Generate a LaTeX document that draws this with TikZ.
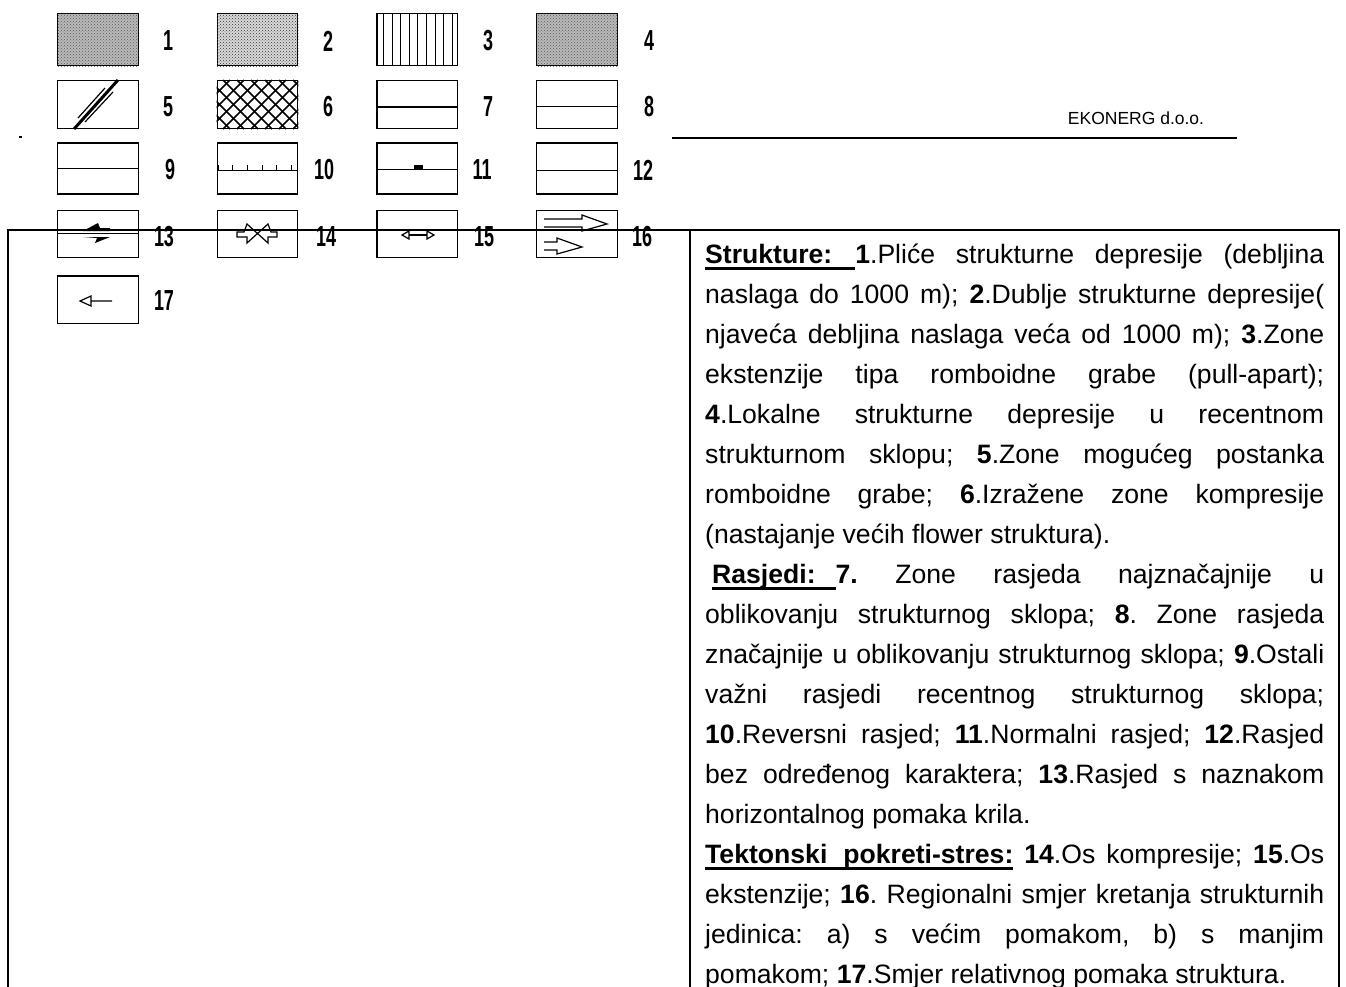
\documentclass[tikz,border=0pt]{standalone}
\usepackage{fontspec}
\setmainfont{Liberation Sans}
\newfontfamily\numfont[FakeStretch=0.62]{Liberation Sans}
\usetikzlibrary{positioning,patterns,calc}
\tikzset{
    legendbox/.style={draw, line width=1.2pt, inner sep=0pt, minimum width=80.5pt},
    legendnum/.style={inner sep=0pt, font=\numfont\bfseries\fontsize{29}{29}\selectfont},
    faultline/.style={line width=1pt},
    framerule/.style={line width=2.2pt, line cap=rect},
    thinsign/.style={line width=1.2pt, line join=miter}
}
\newsavebox\headbox
\newcommand{\headul}[1]{\sbox\headbox{\textbf{#1}}\rlap{\rule[-6.3pt]{\wd\headbox}{3pt}}\usebox\headbox}

\begin{document}
\begin{tikzpicture}[x=1pt, y=-1pt, node distance=78pt]
    \useasboundingbox (0,0) rectangle (1346,986);
    % row 1
    \node[legendbox, minimum height=52pt, anchor=north west, fill=gray!55] (box1) at (57,13) {};
    \node[legendbox, minimum height=52pt, right=of box1, fill=gray!30] (box2) {};
    \node[legendbox, minimum height=52pt, right=of box2] (box3) {};
    \node[legendbox, minimum height=52pt, right=of box3, fill=gray!55] (box4) {};
    \fill[pattern=crosshatch dots, pattern color=black!65] (box1.north west) rectangle (box1.south east);
    \fill[pattern=crosshatch dots, pattern color=black!80] (box2.north west) rectangle (box2.south east);
    \fill[pattern=crosshatch dots, pattern color=black!65] (box4.north west) rectangle (box4.south east);
    % row 2
    \node[legendbox, minimum height=48.5pt, below=13.5pt of box1] (box5) {};
    \node[legendbox, minimum height=48.5pt, right=of box5] (box6) {};
    \node[legendbox, minimum height=48.5pt, right=of box6] (box7) {};
    \node[legendbox, minimum height=48.5pt, right=of box7] (box8) {};
    % row 3
    \node[legendbox, minimum height=51pt, below=13pt of box5] (box9) {};
    \node[legendbox, minimum height=51pt, right=of box9] (box10) {};
    \node[legendbox, minimum height=51pt, right=of box10] (box11) {};
    \node[legendbox, minimum height=51pt, right=of box11] (box12) {};
    % row 4
    \node[legendbox, minimum height=47.5pt, below=15pt of box9] (box13) {};
    \node[legendbox, minimum height=47.5pt, right=of box13] (box14) {};
    \node[legendbox, minimum height=47.5pt, right=of box14] (box15) {};
    \node[legendbox, minimum height=47.5pt, right=of box15] (box16) {};
    % row 5
    \node[legendbox, minimum height=47.5pt, below=17pt of box13] (box17) {};

    % numbers
    \node[legendnum] (num1) at (168,41) {1};
    \node[legendnum] (num2) at (328,41) {2};
    \node[legendnum] (num3) at (488,41) {3};
    \node[legendnum] (num4) at (649,41) {4};
    \node[legendnum] (num5) at (168,107) {5};
    \node[legendnum] (num6) at (328,107) {6};
    \node[legendnum] (num7) at (488,107) {7};
    \node[legendnum] (num8) at (649,107) {8};
    \node[legendnum] (num9) at (170,170) {9};
    \node[legendnum] (num10) at (324,170) {10};
    \node[legendnum] (num11) at (482,170) {11};
    \node[legendnum] (num12) at (643,170) {12};
    \node[legendnum] (num13) at (164,237) {13};
    \node[legendnum] (num14) at (326,237) {14};
    \node[legendnum] (num15) at (484,237) {15};
    \node[legendnum] (num16) at (642,237) {16};
    \node[legendnum] (num17) at (164,301) {17};

    % hatching
    \foreach \x in {383,392,400,409,417,426,435,443,452}
        \draw[line width=.8pt] (\x,13) -- (\x,66);
    \begin{scope}
        \clip (box6.north west) rectangle (box6.south east);
        \foreach \x in {0,14,...,140} {
            \draw[line width=1.5pt] (\x+167,129) -- (\x+216,80);
            \draw[line width=1.5pt] (\x+167,80) -- (\x+216,129);
        }
    \end{scope}

    % signs
    \begin{scope}
        \clip (box5.north west) rectangle (box5.south east);
        \draw[line width=3pt] (74,129) -- (118,80);
    \end{scope}
    \draw[thinsign] (78,118) -- (105,88);
    \draw[thinsign] (85,122) -- (113,92);
    \draw[line width=2pt] ($(box7.west)+(0,2.5)$) -- ($(box7.east)+(0,2.5)$);
    \draw[faultline] ($(box8.west)+(0,1.5)$) -- ($(box8.east)+(0,1.5)$);
    \draw[line width=.7pt] (box9.west) -- (box9.east);
    \draw[faultline] ($(box10.west)+(0,1.5)$) -- ($(box10.east)+(0,1.5)$);
    \foreach \x in {218,232,247,262,276,291}
        \draw[line width=.8pt] (\x,170) -- (\x,165);
    \draw[faultline] ($(box11.west)+(0,.5)$) -- ($(box11.east)+(0,.5)$);
    \fill (414,165) rectangle (423,169);
    \draw[faultline] ($(box12.west)+(0,1.5)$) -- ($(box12.east)+(0,1.5)$);
    \draw[faultline] (box13.west) -- (box13.east);
    \fill (83,231) -- (98,223) -- (100,228) -- (110,228) -- (110,231) -- cycle;
    \fill (83,237) -- (110,237) -- (95,243) -- (97,238) -- cycle;
    \draw[thinsign] (237,232) -- (244,232) -- (247,224) -- (268,243) -- (268,237) -- (277,237) -- (277,232) -- (271,232) -- (268,224) -- (247,243) -- (247,237) -- (237,237) -- cycle;
    \draw[thinsign] (409,235) -- (427,235);
    \draw[thinsign] (402,235) -- (409,231) -- (409,239) -- cycle;
    \draw[thinsign] (434,235) -- (427,231) -- (427,239) -- cycle;
    \draw[thinsign] (544,219) -- (582,219) -- (582,215) -- (607,224) -- (582,231) -- (582,227) -- (544,227);
    \draw[thinsign] (544,242) -- (557,242) -- (557,238) -- (582,247) -- (557,254) -- (557,250) -- (544,250);
    \draw[thinsign] (112,301) -- (91,301) -- (91,296) -- (80,301) -- (91,306) -- (91,301);

    % frame and heading
    \draw[line width=2pt] (19,137) -- (22,137);
    \coordinate (ruleL) at (672,138);
    \coordinate (ruleR) at (1237,138);
    \draw[framerule, line cap=butt] (ruleL) -- (ruleR);
    \node[inner sep=0pt, font=\fontsize{17.5}{20}\selectfont] (firm) at (1136,118) {EKONERG d.o.o.};
    \coordinate (frameTL) at (8,230);
    \coordinate (frameTM) at (690,230);
    \coordinate (frameTR) at (1339,230);
    \coordinate (frameBL) at (8,986);
    \coordinate (frameBM) at (690,986);
    \coordinate (frameBR) at (1339,986);
    \draw[framerule] (frameBL) -- (frameTL) -- (frameTR) -- (frameBR);
    \draw[framerule] (frameTM) -- (frameBM);

    % legend text
    \node[anchor=north west, inner sep=0pt, text width=619pt, align=justify,
          font=\fontsize{26.6}{40}\selectfont\frenchspacing] (legend) at (705,243.5) {%
    \headul{Strukture:\hspace{23pt}}\textbf{1}.Pliće strukturne depresije (debljina\linebreak
    naslaga do 1000 m); \textbf{2}.Dublje strukturne depresije(\linebreak
    njaveća debljina naslaga veća od 1000 m); \textbf{3}.Zone\linebreak
    ekstenzije tipa romboidne grabe (pull-apart);\linebreak
    \textbf{4}.Lokalne strukturne depresije u recentnom\linebreak
    strukturnom sklopu; \textbf{5}.Zone mogućeg postanka\linebreak
    romboidne grabe; \textbf{6}.Izražene zone kompresije\linebreak
    (nastajanje većih flower struktura).\\
    \hspace*{7pt}\headul{Rasjedi:\hspace{20pt}}\textbf{7.} Zone rasjeda najznačajnije u\linebreak
    oblikovanju strukturnog sklopa; \textbf{8}. Zone rasjeda\linebreak
    značajnije u oblikovanju strukturnog sklopa; \textbf{9}.Ostali\linebreak
    važni rasjedi recentnog strukturnog sklopa;\linebreak
    \textbf{10}.Reversni rasjed; \textbf{11}.Normalni rasjed; \textbf{12}.Rasjed\linebreak
    bez određenog karaktera; \textbf{13}.Rasjed s naznakom\linebreak
    horizontalnog pomaka krila.\\
    \headul{Tektonski\hspace{16pt}pokreti-stres:} \textbf{14}.Os kompresije; \textbf{15}.Os\linebreak
    ekstenzije; \textbf{16}. Regionalni smjer kretanja strukturnih\linebreak
    jedinica: a) s većim pomakom, b) s manjim\linebreak
    pomakom; \textbf{17}.Smjer relativnog pomaka struktura.};
\end{tikzpicture}
\end{document}
